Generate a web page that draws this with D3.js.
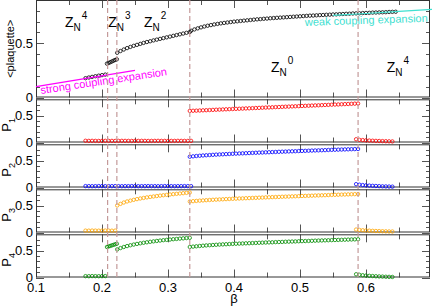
<!DOCTYPE html>
<html>
<head>
<meta charset="utf-8">
<script src="https://cdn.jsdelivr.net/npm/d3@7"></script>
<style>
body { margin: 0; background: #fff; }
svg { display: block; font-family: "Liberation Sans", Arial, sans-serif; }
</style>
</head>
<body>
<script>

// ---- data ----
var betaTicks = [0.1, 0.2, 0.3, 0.4, 0.5, 0.6];
var yTickLabels = [0, 0.5];
var transitions = [0.2085, 0.2225, 0.333, 0.588];
var zoneSups = ["4", "3", "2", "0", "4"];
var panelLabels = ["1", "2", "3", "4"];

// each segment: [first beta, beta step, values]
var plaquette = [
  [0.175, 0.005, [0.178,0.184,0.19,0.196,0.201,0.206,0.211]],
  [0.2075, 0.0025, [0.312,0.318,0.325,0.332,0.339,0.346,0.352]],
  [0.223, 0.005, [0.412,0.428,0.442,0.455,0.466,0.476,0.485,0.494,0.503,0.511,0.518,0.526,
                  0.533,0.54,0.547,0.554,0.561,0.568,0.575,0.582,0.589,0.596,0.603]],
  [0.335, 0.005, [0.615,0.627,0.637,0.646,0.654,0.661,0.667,0.673,0.678,0.683,0.687,0.691,
                  0.695,0.699,0.702,0.705,0.708,0.711,0.714,0.717,0.72,0.722,0.725,0.727,
                  0.73,0.732,0.734,0.736,0.738,0.74,0.742,0.744,0.746,0.748,0.75,0.752,
                  0.754,0.755,0.757,0.759,0.76,0.762,0.763,0.765,0.766,0.768,0.769,0.771,
                  0.772,0.774,0.775,0.776,0.778,0.779,0.78,0.782,0.783,0.784,0.785,0.786,
                  0.788,0.789,0.79]]
];

var p1 = [
  [0.175, 0.005, [0.032,0.03,0.031,0.03,0.029,0.03,0.031,0.03,0.03,0.029,0.03,0.031,0.03,
                  0.03,0.029,0.03,0.03,0.031,0.03,0.029,0.03,0.03,0.031,0.03,0.03,0.029,
                  0.03,0.03,0.031,0.03,0.03,0.029,0.03]],
  [0.333, 0.005, [0.585,0.588,0.59,0.593,0.596,0.598,0.601,0.604,0.607,0.609,0.612,0.615,
                  0.617,0.62,0.623,0.625,0.628,0.631,0.633,0.636,0.639,0.641,0.644,0.647,
                  0.649,0.652,0.655,0.657,0.66,0.663,0.665,0.668,0.671,0.673,0.676,0.679,
                  0.681,0.684,0.687,0.689,0.692,0.695,0.697,0.7,0.703,0.705,0.708,0.711,
                  0.713,0.716,0.719,0.721]],
  [0.585, 0.005, [0.06,0.05,0.045,0.04,0.036,0.033,0.03,0.028,0.026,0.024,0.022,0.02]]
];

var p2 = [
  [0.175, 0.005, [0.026,0.025,0.024,0.025,0.026,0.025,0.024,0.025,0.025,0.026,0.025,0.024,
                  0.025,0.025,0.026,0.025,0.024,0.025,0.025,0.026,0.025,0.025,0.024,0.025,
                  0.026,0.025,0.025,0.024,0.025,0.025,0.026,0.025,0.025]],
  [0.333, 0.005, [0.57,0.577,0.583,0.588,0.593,0.597,0.601,0.605,0.609,0.612,0.615,0.618,
                  0.621,0.624,0.627,0.63,0.633,0.635,0.638,0.641,0.643,0.646,0.648,0.651,
                  0.653,0.656,0.658,0.661,0.663,0.665,0.668,0.67,0.672,0.675,0.677,0.679,
                  0.681,0.684,0.686,0.688,0.69,0.692,0.695,0.697,0.699,0.701,0.703,0.705,
                  0.707,0.709,0.711,0.713]],
  [0.585, 0.005, [0.062,0.052,0.045,0.04,0.035,0.031,0.028,0.025,0.022,0.02,0.018,0.016]]
];

var p3 = [
  [0.175, 0.005, [0.035,0.034,0.036,0.035,0.034,0.035,0.036,0.035,0.034,0.035]],
  [0.223, 0.005, [0.5,0.53,0.555,0.575,0.59,0.605,0.618,0.63,0.64,0.65,0.659,0.667,0.675,
                  0.683,0.69,0.697,0.704,0.71,0.716,0.722,0.728,0.734,0.74]],
  [0.333, 0.005, [0.574,0.58,0.585,0.59,0.594,0.598,0.602,0.606,0.609,0.612,0.615,0.618,
                  0.621,0.624,0.627,0.63,0.632,0.635,0.637,0.64,0.642,0.645,0.647,0.65,
                  0.652,0.655,0.657,0.659,0.662,0.664,0.666,0.669,0.671,0.673,0.676,0.678,
                  0.68,0.682,0.685,0.687,0.689,0.691,0.693,0.696,0.698,0.7,0.702,0.704,
                  0.706,0.708,0.71,0.712]],
  [0.585, 0.005, [0.055,0.048,0.042,0.038,0.034,0.031,0.028,0.026,0.024,0.022,0.02,0.019]]
];

var p4 = [
  [0.175, 0.005, [0.025,0.024,0.026,0.025,0.024,0.025,0.026]],
  [0.2075, 0.0025, [0.565,0.575,0.585,0.595,0.605,0.615,0.625]],
  [0.223, 0.005, [0.52,0.545,0.565,0.582,0.597,0.61,0.622,0.633,0.643,0.652,0.661,0.669,
                  0.677,0.684,0.691,0.697,0.703,0.709,0.714,0.72,0.725,0.73,0.735]],
  [0.333, 0.005, [0.565,0.572,0.578,0.584,0.589,0.594,0.598,0.602,0.606,0.61,0.613,0.616,
                  0.619,0.622,0.625,0.628,0.63,0.633,0.635,0.638,0.64,0.643,0.645,0.648,
                  0.65,0.652,0.655,0.657,0.659,0.662,0.664,0.666,0.668,0.671,0.673,0.675,
                  0.677,0.679,0.682,0.684,0.686,0.688,0.69,0.692,0.694,0.696,0.698,0.7,
                  0.702,0.704,0.706,0.708]],
  [0.585, 0.005, [0.06,0.05,0.042,0.036,0.031,0.027,0.023,0.02,0.017,0.014,0.012,0.01]]
];

var strongCoupling = [[0.1, 0.1], [0.25, 0.25]];
var weakCoupling = [[0.55, 0.757], [0.6, 0.774], [0.65, 0.793], [0.7, 0.812]];

// ---- drawing ----
var W = 432, H = 306;
var left = 36, right = 430;

var svg = d3.select("body").append("svg")
  .attr("width", W)
  .attr("height", H);

var x = d3.scaleLinear().domain([0.1, 0.7]).range([36, 432]);

var panels = [
  { segs: plaquette, color: "#000000", top: -0.2, bottom: 97.5, max: 0.9 },
  { segs: p1, color: "#ff0000", top: 99.3, bottom: 142.5, max: 0.8 },
  { segs: p2, color: "#0000ff", top: 144.3, bottom: 187.5, max: 0.8 },
  { segs: p3, color: "#ffa500", top: 189.3, bottom: 232.5, max: 0.8 },
  { segs: p4, color: "#008c00", top: 234.3, bottom: 277.5, max: 0.8 }
];

var xMinor = d3.range(2, 14).map(function(i) { return i * 0.05; });

panels.forEach(function(p, pi) {
  var y = d3.scaleLinear().domain([0, p.max]).range([p.bottom, p.top]);
  p.y = y;
  var g = svg.append("g");

  // x ticks, inward on top and bottom
  xMinor.forEach(function(b, i) {
    var len = (i % 2 == 0) ? 8 : 5;
    var xx = Math.round(x(b)) + 0.5;
    g.append("line").attr("x1", xx).attr("x2", xx)
      .attr("y1", p.bottom).attr("y2", p.bottom - len)
      .attr("stroke", "#555").attr("stroke-width", 1);
    g.append("line").attr("x1", xx).attr("x2", xx)
      .attr("y1", Math.max(p.top, 0)).attr("y2", Math.max(p.top, 0) + len)
      .attr("stroke", "#555").attr("stroke-width", 1);
  });

  // y ticks
  var yt = d3.range(0, Math.round(p.max * 10)).map(function(i) { return i / 10; });
  yt.forEach(function(v) {
    var major = (v == 0 || v == 0.5);
    var len = major ? 8 : 4;
    var yy = Math.round(y(v)) + 0.5;
    g.append("line").attr("x1", left).attr("x2", left + len)
      .attr("y1", yy).attr("y2", yy).attr("stroke", "#555");
    g.append("line").attr("x1", right).attr("x2", right - len)
      .attr("y1", yy).attr("y2", yy).attr("stroke", "#555");
  });

  yTickLabels.forEach(function(v) {
    g.append("text")
      .attr("x", 33)
      .attr("y", y(v))
      .attr("dy", "0.36em")
      .attr("text-anchor", "end")
      .attr("font-size", 13)
      .text(v);
  });

  // frame
  g.append("rect")
    .attr("x", left + 0.5)
    .attr("y", Math.max(p.top, 0) + 0.5)
    .attr("width", right - left - 1)
    .attr("height", p.bottom - Math.max(p.top, 0) - 1)
    .attr("fill", "none")
    .attr("stroke", "#333")
    .attr("stroke-width", 1);

  // data points
  var pts = [];
  p.segs.forEach(function(s) {
    s[2].forEach(function(v, i) {
      pts.push({ b: s[0] + i * s[1], v: v });
    });
  });
  g.append("g").selectAll("circle")
    .data(pts)
    .enter()
    .append("circle")
    .attr("cx", function(d) { return x(d.b); })
    .attr("cy", function(d) { return y(d.v); })
    .attr("r", 1.7)
    .attr("fill", "none")
    .attr("stroke", p.color)
    .attr("stroke-width", 0.8);

  // panel label
  if (pi == 0) {
    svg.append("text")
      .attr("transform", "translate(14," + ((p.bottom + 0) / 2) + ") rotate(-90)")
      .attr("text-anchor", "middle")
      .attr("font-size", 11)
      .text("<plaquette>");
  } else {
    var t = svg.append("text")
      .attr("transform", "translate(11," + ((p.top + p.bottom) / 2 + 4) + ") rotate(-90)")
      .attr("text-anchor", "middle")
      .attr("font-size", 13);
    t.append("tspan").text("P");
    t.append("tspan").attr("font-size", 9).attr("dy", 4).text(panelLabels[pi - 1]);
  }
});

// expansions in top panel
var yTop = panels[0].y;
var line = d3.line()
  .x(function(d) { return x(d[0]); })
  .y(function(d) { return yTop(d[1]); });

svg.append("path").datum(strongCoupling)
  .attr("d", line).attr("fill", "none")
  .attr("stroke", "#ff00ff").attr("stroke-width", 1.2);
svg.append("path").datum(weakCoupling)
  .attr("d", line).attr("fill", "none")
  .attr("stroke", "#40e0d0").attr("stroke-width", 1.2);

svg.append("text")
  .attr("transform", "translate(41,94) rotate(-8.5)")
  .attr("font-size", 11)
  .attr("fill", "#ff00ff")
  .text("strong coupling expansion");
svg.append("text")
  .attr("transform", "translate(305,26) rotate(-2)")
  .attr("font-size", 11)
  .attr("fill", "#40e0d0")
  .text("weak coupling expansion");

// transition lines
svg.append("g").selectAll("line")
  .data(transitions)
  .enter()
  .append("line")
  .attr("x1", function(d) { return x(d); })
  .attr("x2", function(d) { return x(d); })
  .attr("y1", 0)
  .attr("y2", 277.5)
  .attr("stroke", "#c49a9a")
  .attr("stroke-width", 1.2)
  .attr("stroke-dasharray", "5,3");

// phase labels
var zonePos = [[65, 26.7], [108.3, 26.7], [144, 26.7], [271, 71.7], [386.7, 71.7]];
zoneSups.forEach(function(s, i) {
  var t = svg.append("text")
    .attr("x", zonePos[i][0])
    .attr("y", zonePos[i][1])
    .attr("font-size", 14);
  t.append("tspan").text("Z");
  t.append("tspan").attr("font-size", 10).attr("dy", 4).text("N");
  t.append("tspan").attr("font-size", 10).attr("dx", 1).attr("dy", -12).text(s);
});

// x tick labels
betaTicks.forEach(function(b) {
  svg.append("text")
    .attr("x", x(b))
    .attr("y", 291.5)
    .attr("text-anchor", "middle")
    .attr("font-size", 13)
    .text(b.toFixed(1));
});

svg.append("text")
  .attr("x", 234)
  .attr("y", 303)
  .attr("text-anchor", "middle")
  .attr("font-size", 13)
  .text("β");

</script>
</body>
</html>
